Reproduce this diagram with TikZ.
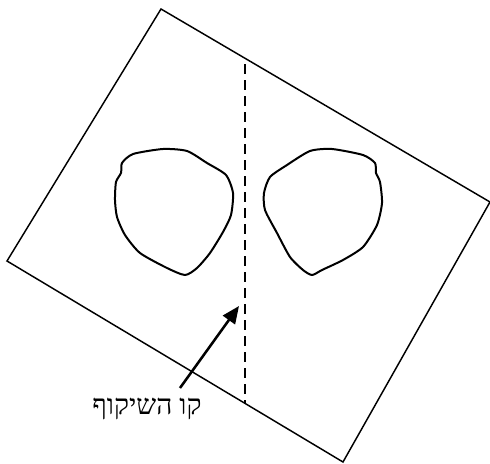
\documentclass[tikz,border=0pt]{standalone}
\usepackage{fontspec}
\newfontfamily\hebfont[Script=Hebrew]{Liberation Serif}
\TeXXeTstate=1
\usetikzlibrary{arrows.meta}
\begin{document}
\begin{tikzpicture}[
    x=0.75pt, y=-0.75pt,
    sheet/.style={draw, line width=1.1pt, line join=miter},
    blob/.style={draw, line width=1.5pt, line join=round},
    mirror/.style={draw, line width=1.1pt, dash pattern=on 7.5pt off 4.5pt},
    myarrow/.style={-{Triangle[length=13pt, width=11pt]}, line width=1.9pt},
    hlabel/.style={font=\hebfont\fontsize{21}{24}\selectfont, inner sep=1pt},
]
\useasboundingbox (0,0) rectangle (490,464);

% the tilted sheet
\coordinate (top) at (161,9);
\coordinate (right) at (490,202);
\coordinate (bottom) at (343,462);
\coordinate (left) at (7,261);
\draw[sheet] (top) -- (right) -- (bottom) -- (left) -- cycle;

% reflection line
\coordinate (mtop) at (245,64);
\coordinate (mbot) at (245,403);
\draw[mirror] (mtop) -- (mbot);

% left shape
\draw[blob] plot[smooth cycle, tension=0.4] coordinates {
    (122,163) (133,154) (163,149) (187,151) (207,163) (226,175) (233,193)
    (231,215) (223,232) (210,253) (197,268) (185,275) (167,268) (140,253)
    (125,235) (117,217) (115,200) (116,182) (121,173)};

% right shape
\draw[blob] plot[smooth cycle, tension=0.4] coordinates {
    (310,151) (332,149) (363,155) (375,163) (376,173) (380,182) (382,203)
    (377,225) (363,247) (343,260) (322,270) (312,275) (303,270) (290,257)
    (277,233) (265,210) (264,193) (270,177) (287,165)};

% label and arrow
\node[hlabel] (lbl) at (147,409) {\beginR קו השיקוף\endR};
\coordinate (tail) at (180,388);
\coordinate (tip) at (239,306);
\draw[myarrow] (tail) -- (tip);
\end{tikzpicture}
\end{document}
